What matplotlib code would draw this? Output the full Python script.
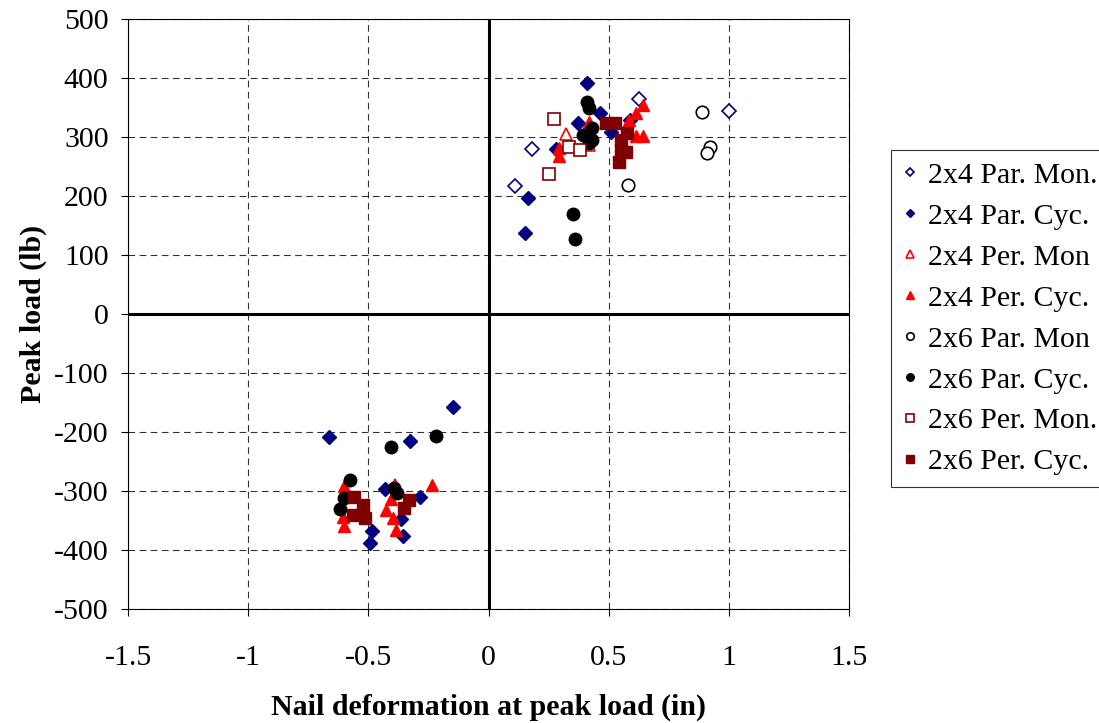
import matplotlib
matplotlib.use('Agg')
import matplotlib.pyplot as plt

plt.rcParams['font.family'] = ['Liberation Serif', 'DejaVu Serif']
plt.rcParams['axes.unicode_minus'] = False

# 2x4 parallel, monotonic
p4_mon_x = [0.628, 1.0, 0.18, 0.112]
p4_mon_y = [364, 344, 279, 217]
# 2x4 parallel, cyclic
p4_cyc_x = [0.41, 0.462, 0.372, 0.164, 0.153, 0.51, 0.28, 0.587,
            -0.149, -0.665, -0.326, -0.429, -0.284, -0.484, -0.495, -0.357, -0.366]
p4_cyc_y = [391, 340, 323, 197, 138, 309, 279, 329,
            -158, -208, -216, -297, -310, -367, -389, -377, -348]
# 2x4 perpendicular, monotonic
q4_mon_x = [0.323, 0.42, -0.39]
q4_mon_y = [305, 286, -290]
# 2x4 perpendicular, cyclic
q4_cyc_x = [0.293, 0.293, 0.42, 0.584, 0.615, 0.642, 0.615, 0.642,
            -0.603, -0.603, -0.606, -0.234, -0.426, -0.398, -0.384, -0.405]
q4_cyc_y = [282, 267, 326, 329, 340, 354, 302, 302,
            -292, -359, -344, -290, -333, -346, -366, -314]
# 2x6 parallel, monotonic
p6_mon_x = [0.889, 0.92, 0.908, 0.58]
p6_mon_y = [343, 283, 273, 219]
# 2x6 parallel, cyclic
p6_cyc_x = [0.41, 0.42, 0.43, 0.392, 0.43, 0.42, 0.351, 0.362,
            -0.22, -0.405, -0.576, -0.6, -0.617, -0.395, -0.381]
p6_cyc_y = [360, 349, 316, 303, 295, 290, 169, 127,
            -206, -226, -281, -312, -331, -295, -304]
# 2x6 perpendicular, monotonic
q6_mon_x = [0.272, 0.337, 0.379, 0.251]
q6_mon_y = [331, 283, 278, 238]
# 2x6 perpendicular, cyclic
q6_cyc_x = [0.49, 0.528, 0.576, 0.552, 0.552, 0.573, 0.545,
            -0.558, -0.523, -0.565, -0.516, -0.329, -0.35]
q6_cyc_y = [323, 323, 306, 295, 278, 275, 258,
            -310, -324, -341, -346, -315, -329]

navy = '#000080'
red = '#FF0000'
maroon = '#800000'

fig = plt.figure(figsize=(10.99, 7.23), dpi=100)
ax = fig.add_axes([0.1165, 0.1577, 0.656, 0.816])

ax.grid(True, color='black', linestyle=(0, (6, 4)), linewidth=0.8, alpha=0.8)
ax.set_axisbelow(True)
ax.axhline(0, color='black', linewidth=2.2, zorder=1)
ax.axvline(0, color='black', linewidth=2.2, zorder=1)

ax.plot(p4_mon_x, p4_mon_y, 'D', ms=7, mfc='white', mec=navy, mew=1.2,
        ls='none', label='2x4 Par. Mon.', zorder=3)
ax.plot(p4_cyc_x, p4_cyc_y, 'D', ms=7, mfc=navy, mec=navy,
        ls='none', label='2x4 Par. Cyc.', zorder=3)
ax.plot(q4_mon_x, q4_mon_y, '^', ms=9, mfc='white', mec=red, mew=1.2,
        ls='none', label='2x4 Per. Mon', zorder=3)
ax.plot(q4_cyc_x, q4_cyc_y, '^', ms=9, mfc=red, mec=red,
        ls='none', label='2x4 Per. Cyc.', zorder=3)
ax.plot(p6_mon_x, p6_mon_y, 'o', ms=9, mfc='white', mec='black', mew=1.2,
        ls='none', label='2x6 Par. Mon', zorder=3)
ax.plot(p6_cyc_x, p6_cyc_y, 'o', ms=9, mfc='black', mec='black',
        ls='none', label='2x6 Par. Cyc.', zorder=3)
ax.plot(q6_mon_x, q6_mon_y, 's', ms=9, mfc='white', mec=maroon, mew=1.2,
        ls='none', label='2x6 Per. Mon.', zorder=3)
ax.plot(q6_cyc_x, q6_cyc_y, 's', ms=9, mfc=maroon, mec=maroon,
        ls='none', label='2x6 Per. Cyc.', zorder=3)

ax.set_xlim(-1.5, 1.5)
ax.set_ylim(-500, 500)
ax.set_xticks([-1.5, -1, -0.5, 0, 0.5, 1, 1.5])
ax.set_xticklabels(['-1.5', '-1', '-0.5', '0', '0.5', '1', '1.5'])
ax.set_yticks(range(-500, 501, 100))
ax.tick_params(labelsize=21.5, direction='out', length=5)
ax.tick_params(axis='x', pad=21)
ax.tick_params(axis='y', pad=9)
for s in ax.spines.values():
    s.set_linewidth(0.8)

ax.set_xlabel('Nail deformation at peak load (in)', fontsize=21.5,
              fontweight='bold', labelpad=16)
ax.set_ylabel('Peak load (lb)', fontsize=21.5, fontweight='bold', labelpad=5)

leg = ax.legend(loc='upper left', bbox_to_anchor=(1.058, 0.778), fontsize=21.5,
                frameon=True, fancybox=False, edgecolor='black',
                markerscale=0.6, handlelength=0.5, handletextpad=0.35,
                labelspacing=0.47, borderpad=0.4, borderaxespad=0)
leg.get_frame().set_linewidth(0.8)

fig.savefig('out.png', dpi=100)
